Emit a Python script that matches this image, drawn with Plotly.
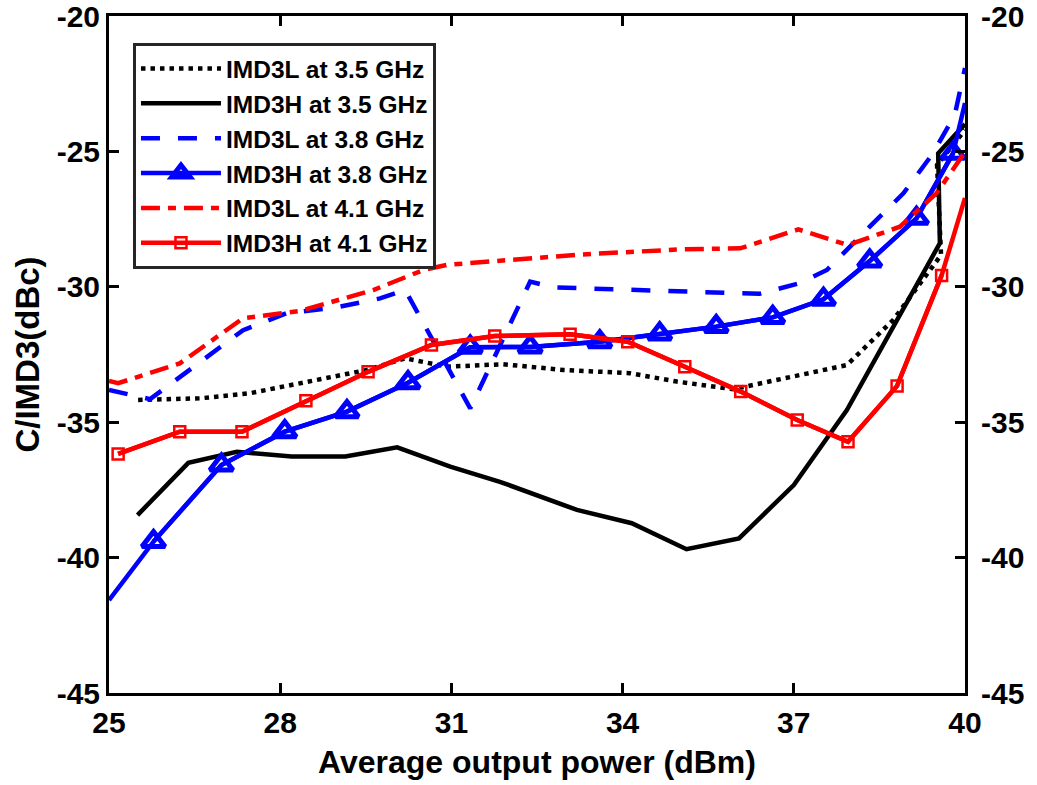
import plotly.graph_objects as go

# Average output power (dBm) and C/IMD3 (dBc) for each tone / frequency
x_l35 = [25.51, 26.59, 27.47, 28.35, 29.52, 30.19, 30.92, 31.91, 32.96, 34.13, 34.95,
         35.94, 36.93, 37.93, 38.74, 39.58, 39.51, 40.0]
y_l35 = [-34.18, -34.12, -33.93, -33.56, -33.07, -32.64, -32.95, -32.86, -33.07, -33.19,
         -33.5, -33.78, -33.33, -32.89, -31.23, -28.83, -25.5, -24.21]

x_h35 = [25.5, 26.39, 27.24, 28.2, 29.14, 30.05, 30.98, 31.85, 33.2, 34.16, 35.12,
         36.04, 37.0, 37.93, 39.56, 39.53, 40.0]
y_h35 = [-38.43, -36.5, -36.09, -36.27, -36.27, -35.93, -36.64, -37.2, -38.24, -38.73,
         -39.69, -39.29, -37.32, -34.55, -28.39, -25.07, -23.99]

x_l38 = [25.0, 25.72, 27.35, 28.12, 28.93, 29.75, 30.19, 31.33, 32.38, 32.79, 33.37,
         35.0, 36.4, 37.1, 37.58, 38.33, 38.92, 39.44, 39.82, 40.0]
y_l38 = [-33.81, -34.15, -31.6, -30.97, -30.78, -30.43, -30.12, -34.49, -29.81, -30.02,
         -30.06, -30.18, -30.26, -29.87, -29.38, -27.78, -26.55, -25.07, -23.66, -21.92]

x_h38 = [25.0, 25.78, 26.97, 28.08, 29.17, 30.24, 31.33, 32.38, 33.6, 34.65, 35.64,
         36.63, 37.52, 38.33, 39.15, 39.79, 40.0]
y_h38 = [-41.57, -39.41, -36.58, -35.35, -34.61, -33.54, -32.23, -32.22, -32.03, -31.74,
         -31.47, -31.13, -30.46, -29.05, -27.47, -25.07, -23.21]

x_l41 = [25.0, 25.16, 26.24, 27.35, 28.35, 29.63, 30.51, 30.92, 32.08, 33.25, 35.0,
         36.06, 37.08, 37.95, 38.86, 39.5, 40.0]
y_l41 = [-33.48, -33.56, -32.83, -31.16, -30.89, -30.12, -29.38, -29.19, -29.0, -28.81,
         -28.62, -28.58, -27.88, -28.46, -27.78, -26.55, -25.02]

x_h41 = [25.16, 26.24, 27.33, 28.45, 29.54, 30.65, 31.76, 33.08, 34.09, 35.09, 36.07,
         37.06, 37.95, 38.81, 39.59, 40.0]
y_h41 = [-36.17, -35.35, -35.35, -34.21, -33.14, -32.15, -31.82, -31.75, -32.03, -32.95,
         -33.87, -34.92, -35.72, -33.66, -29.58, -26.72]

x_ticks = [25, 28, 31, 34, 37, 40]
y_ticks = [-45, -40, -35, -30, -25, -20]
y_tick_labels = ["-45", "-40", "-35", "-30", "-25", "-20"]

FONT = "Liberation Sans, Arial, sans-serif"
LW = 4.5

fig = go.Figure()

# IMD3L at 3.5 GHz
fig.add_trace(go.Scatter(x=x_l35, y=y_l35, mode="lines", name="IMD3L at 3.5 GHz",
                         line=dict(color="black", width=LW, dash="4.5px,5px")))
# IMD3H at 3.5 GHz
fig.add_trace(go.Scatter(x=x_h35, y=y_h35, mode="lines", name="IMD3H at 3.5 GHz",
                         line=dict(color="black", width=LW)))
# IMD3L at 3.8 GHz
fig.add_trace(go.Scatter(x=x_l38, y=y_l38, mode="lines", name="IMD3L at 3.8 GHz",
                         line=dict(color="#0000ff", width=LW, dash="19px,18px")))
# IMD3H at 3.8 GHz: full polyline, then the marked interior points
fig.add_trace(go.Scatter(x=x_h38, y=y_h38, mode="lines", showlegend=False,
                         line=dict(color="#0000ff", width=LW)))
fig.add_trace(go.Scatter(x=x_h38[1:-1], y=y_h38[1:-1], mode="lines+markers",
                         name="IMD3H at 3.8 GHz",
                         line=dict(color="#0000ff", width=LW),
                         marker=dict(symbol="triangle-up-open", size=20, color="#0000ff",
                                     line=dict(color="#0000ff", width=5))))
# IMD3L at 4.1 GHz
fig.add_trace(go.Scatter(x=x_l41, y=y_l41, mode="lines", name="IMD3L at 4.1 GHz",
                         line=dict(color="#ff0000", width=LW, dash="19px,8px,8px,8px")))
# IMD3H at 4.1 GHz (drawn on the right-hand axis, which shares the same range)
fig.add_trace(go.Scatter(x=x_h41, y=y_h41, mode="lines", showlegend=False, yaxis="y2",
                         line=dict(color="#ff0000", width=LW)))
fig.add_trace(go.Scatter(x=x_h41[:-1], y=y_h41[:-1], mode="lines+markers", yaxis="y2",
                         name="IMD3H at 4.1 GHz",
                         line=dict(color="#ff0000", width=LW),
                         marker=dict(symbol="square-open", size=11, color="#ff0000",
                                     line=dict(color="#ff0000", width=2.5))))

tick_font = dict(family=FONT, size=30, color="black", weight="bold")

axis_common = dict(
    showgrid=False, zeroline=False, showline=True, linecolor="black", linewidth=3,
    ticks="inside", ticklen=10, tickwidth=2.5, tickcolor="black", tickfont=tick_font,
    ticklabeloverflow="allow", automargin=False,
)

fig.update_layout(
    width=1037, height=785,
    margin=dict(l=109, r=72, t=16, b=92, autoexpand=False),
    paper_bgcolor="white", plot_bgcolor="white",
    font=dict(family=FONT, color="black", weight="bold"),
    xaxis=dict(range=[25, 40], tickvals=x_ticks, mirror="ticks", ticklabelstandoff=1,
               title=dict(text="Average output power (dBm)", standoff=13,
                          font=dict(family=FONT, size=32, color="black", weight="bold")),
               **axis_common),
    yaxis=dict(range=[-45, -20], tickvals=y_ticks, ticktext=y_tick_labels, mirror="ticks",
               title=dict(text="C/IMD3(dBc)", standoff=8,
                          font=dict(family=FONT, size=33, color="black", weight="bold")),
               **axis_common),
    yaxis2=dict(range=[-45, -20], tickvals=y_ticks, ticktext=y_tick_labels,
                overlaying="y", side="right", anchor="x", automargin=False,
                showgrid=False, zeroline=False, showline=False,
                ticks="inside", ticklen=10, tickwidth=2.5, tickcolor="black",
                tickfont=tick_font, ticklabelstandoff=15, ticklabeloverflow="allow"),
    legend=dict(x=0.028, y=0.96, xanchor="left", yanchor="top",
                bgcolor="white", bordercolor="#262626", borderwidth=3,
                font=dict(family=FONT, size=24.5, color="black", weight="bold"),
                itemwidth=80, tracegroupgap=0),
    showlegend=True,
)

fig.write_html("out.html")
